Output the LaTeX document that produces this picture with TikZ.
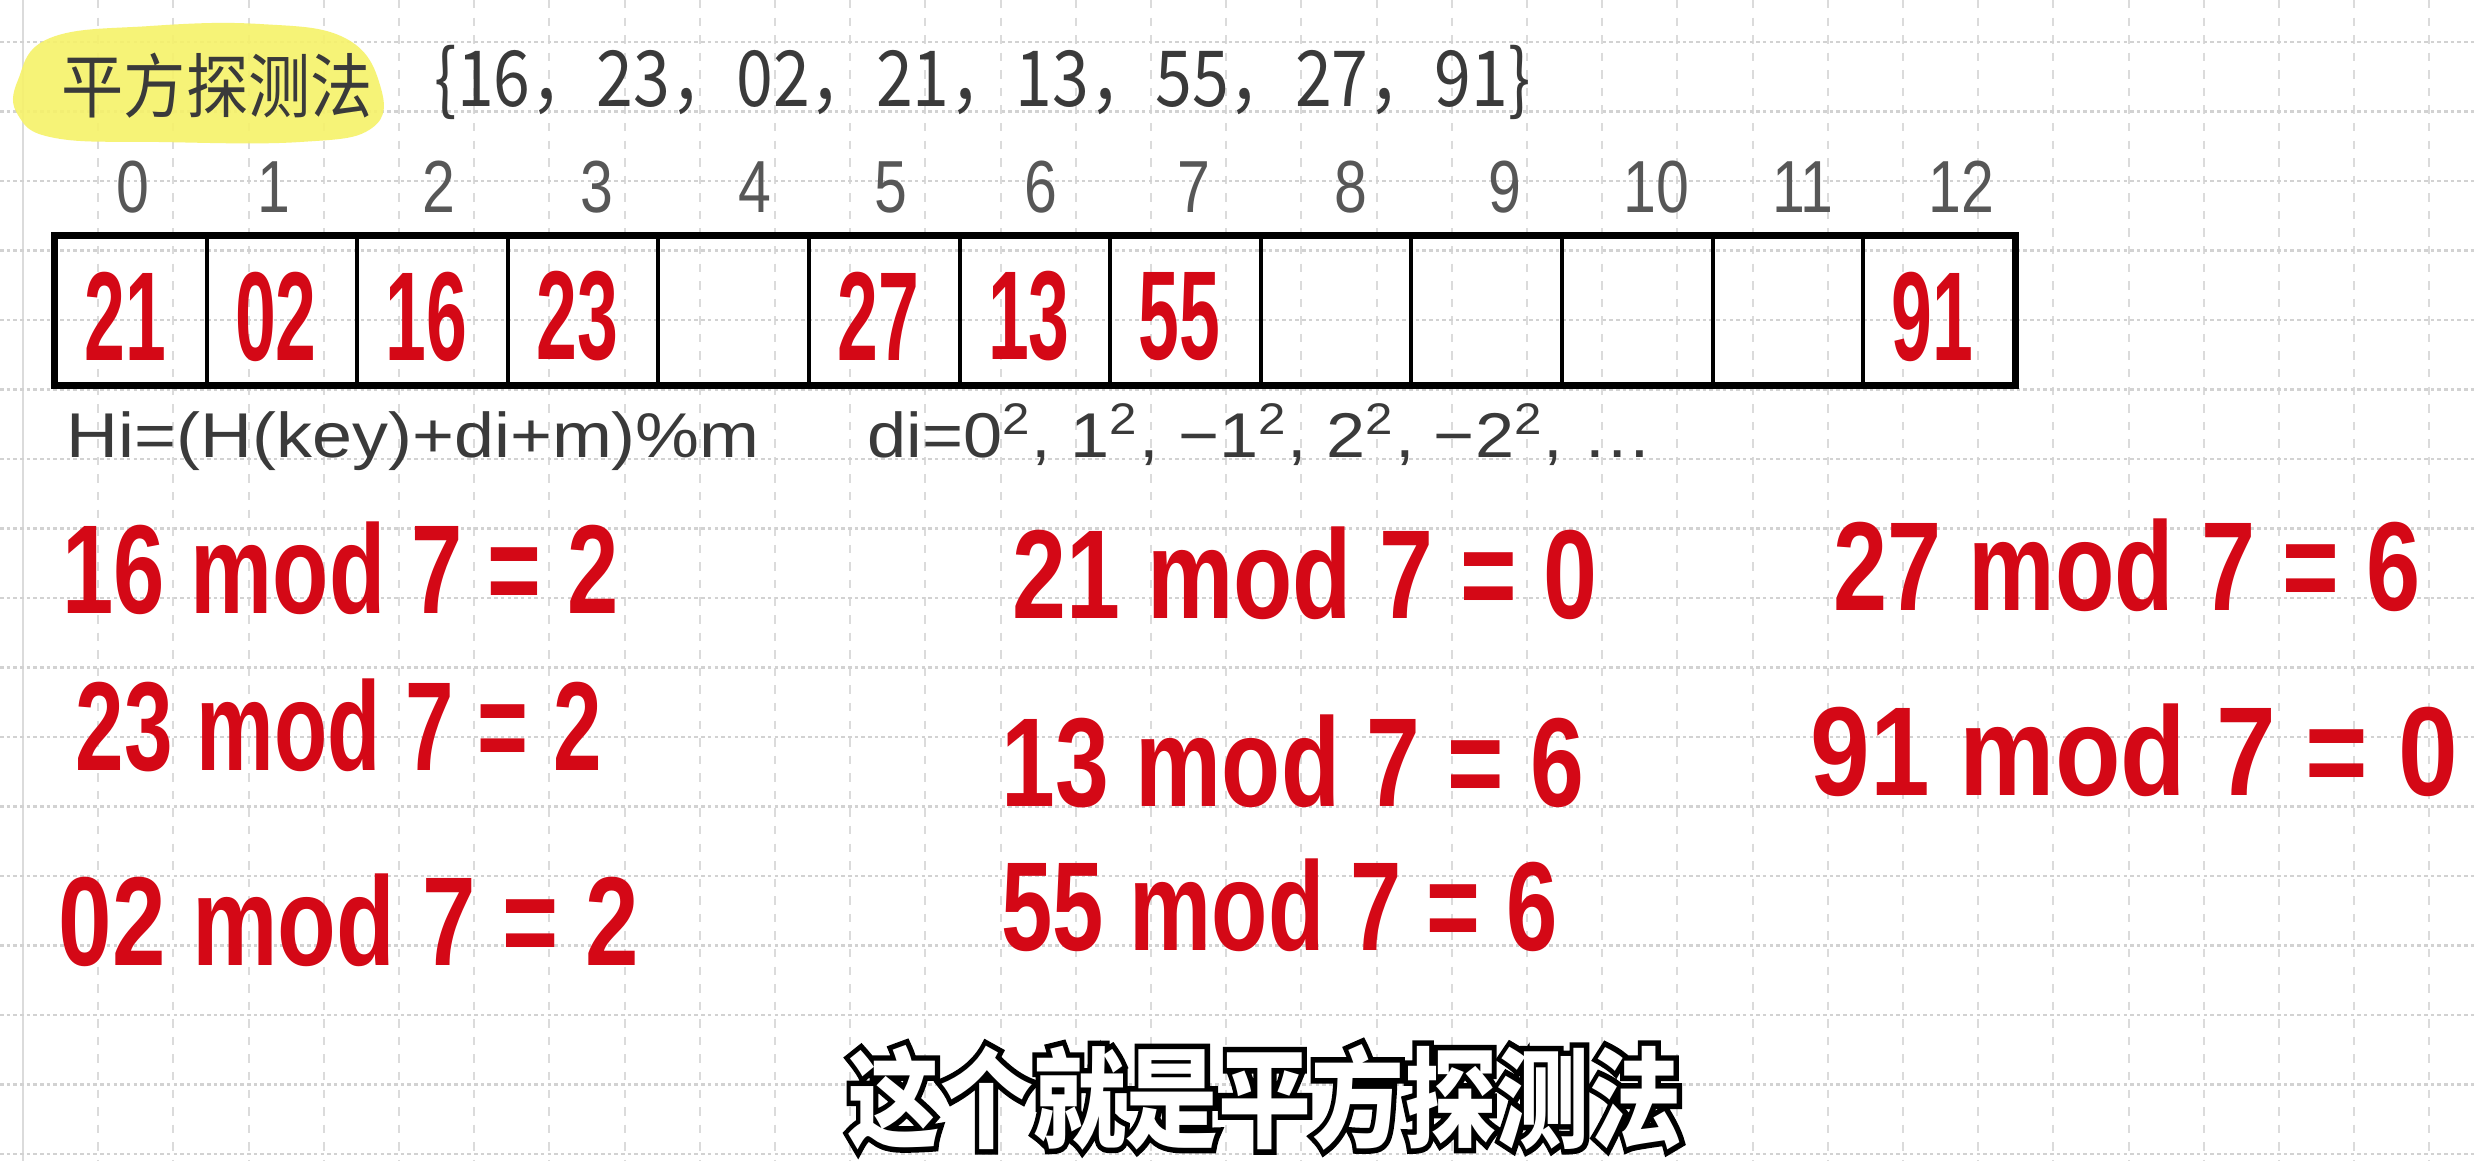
\documentclass[tikz,border=0pt]{standalone}
\usepackage{fontspec}
\usepackage{graphicx}
\setmainfont{Liberation Sans}
\newfontfamily\cjk{Noto Sans CJK SC}
\newfontfamily\cjkhalo{Noto Sans CJK SC}[FakeBold=10]

\definecolor{inkred}{RGB}{212,8,22}
\definecolor{inkgray}{RGB}{58,58,58}
\definecolor{marker}{RGB}{246,242,105}

\newcommand{\probeline}{\resizebox{83.5mm}{\height}{这个就是平方探测法}}

\tikzset{
  gridv/.style={draw=gray!28, line width=0.6pt, dash pattern=on 2.4pt off 2.6pt},
  gridh/.style={draw=gray!35, line width=0.7pt, dash pattern=on 1pt off 0.9pt},
  cellbox/.style={draw=black, line width=1.1pt, minimum width=15.06mm, minimum height=14.7mm, inner sep=0pt},
  cellval/.style={text=inkred, font=\fontsize{36}{40}\selectfont\bfseries, inner sep=0pt},
  idx/.style={text=inkgray!85, font=\fontsize{21}{24}\selectfont, inner sep=0pt},
  pen/.style={text=inkgray, inner sep=0pt, anchor=base west},
  redpen/.style={text=inkred, font=\fontsize{36}{40}\selectfont\bfseries, inner sep=0pt, anchor=base west},
  subhalo/.style={text=black, font=\fontsize{31}{34}\selectfont\cjkhalo\bfseries, inner sep=0pt},
  subtext/.style={text=white, font=\fontsize{31}{34}\selectfont\cjk\bfseries, inner sep=0pt}
}

\begin{document}
\begin{tikzpicture}[x=0.1mm, y=-0.1mm]
  \fill[white] (0,0) rectangle (2477,1161);
  \useasboundingbox (0,0) rectangle (2477,1161);

  % paper grid
  \draw[draw=gray!28, line width=0.6pt] (23,0) -- (23,1161);
  \foreach \k in {1,...,32}
    \draw[gridv] ({23+75.2*\k},0) -- ({23+75.2*\k},1161);
  \foreach \k in {0,...,16}
    \draw[gridh] (0,{42+69.5*\k}) -- (2477,{42+69.5*\k});

  % title with marker
  \fill[marker, opacity=0.9] plot[smooth cycle, tension=0.7] coordinates
    {(18,80) (50,38) (150,26) (260,24) (345,38) (380,85) (372,128) (300,142) (160,142) (55,138) (18,115)};
  \node[pen, anchor=west, font=\fontsize{20}{24}\selectfont\cjk] (title) at (61,86)
    {\resizebox{31.1mm}{\height}{平方探测法}};
  \node[pen, font=\fontsize{22}{26}\selectfont\cjk] (keys) at (434,106)
    {\resizebox{109.6mm}{\height}{\{16，23，02，21，13，55，27，91\}}};

  % index row
  \foreach \i/\x in {0/133,1/274,2/439,3/597,4/755,5/891,6/1041,7/1194,8/1351,9/1505,10/1656,11/1803,12/1961}
    \node[idx] (idx\i) at (\x,187) {\scalebox{0.8}[1]{\i}};

  % hash table
  \foreach \i in {0,...,12}
    \node[cellbox] (cell\i) at ({56+150.6*(\i+0.5)},310.5) {};
  \draw[line width=1.6pt] (cell0.north west) rectangle (cell12.south east);
  \foreach \i/\v in {0/21,1/02,2/16,3/23,5/27,6/13,7/55,12/91}
    \node[cellval] (val\i) at ([xshift=-0.6mm,yshift=-0.6mm]cell\i.center) {\scalebox{0.58}[1]{\v}};

  % probe formula
  \node[pen, font=\fontsize{18}{22}\selectfont] (hfun) at (66,457)
    {\resizebox{69.3mm}{\height}{Hi=(H(key)+di+m)\%m}};
  \node[pen, font=\fontsize{18}{22}\selectfont] (dseq) at (867,457)
    {\resizebox{78.5mm}{\height}{di=0\textsuperscript{2}, 1\textsuperscript{2}, −1\textsuperscript{2}, 2\textsuperscript{2}, −2\textsuperscript{2}, …}};

  % Column 1
  \node[redpen] (mod16) at (62,613) {\resizebox{55.6mm}{\height}{16 mod 7 = 2}};
  \node[redpen] (mod23) at (75,770) {\resizebox{52.6mm}{\height}{23 mod 7 = 2}};
  \node[redpen] (mod02) at (58,965) {\resizebox{58.0mm}{\height}{02 mod 7 = 2}};
  % Column 2
  \node[redpen] (mod21) at (1012,618) {\resizebox{58.5mm}{\height}{21 mod 7 = 0}};
  \node[redpen] (mod13) at (1001,806) {\resizebox{58.3mm}{\height}{13 mod 7 = 6}};
  \node[redpen] (mod55) at (1001,950) {\resizebox{55.6mm}{\height}{55 mod 7 = 6}};
  % Column 3
  \node[redpen] (mod27) at (1833,610) {\resizebox{58.7mm}{\height}{27 mod 7 = 6}};
  \node[redpen] (mod91) at (1810,795) {\resizebox{64.7mm}{\height}{91 mod 7 = 0}};

  % subtitle
  \node[subhalo] (halo) at (1265,1097) {\probeline};
  \node[subtext] (subtitle) at (1265,1097) {\probeline};
\end{tikzpicture}
\end{document}
